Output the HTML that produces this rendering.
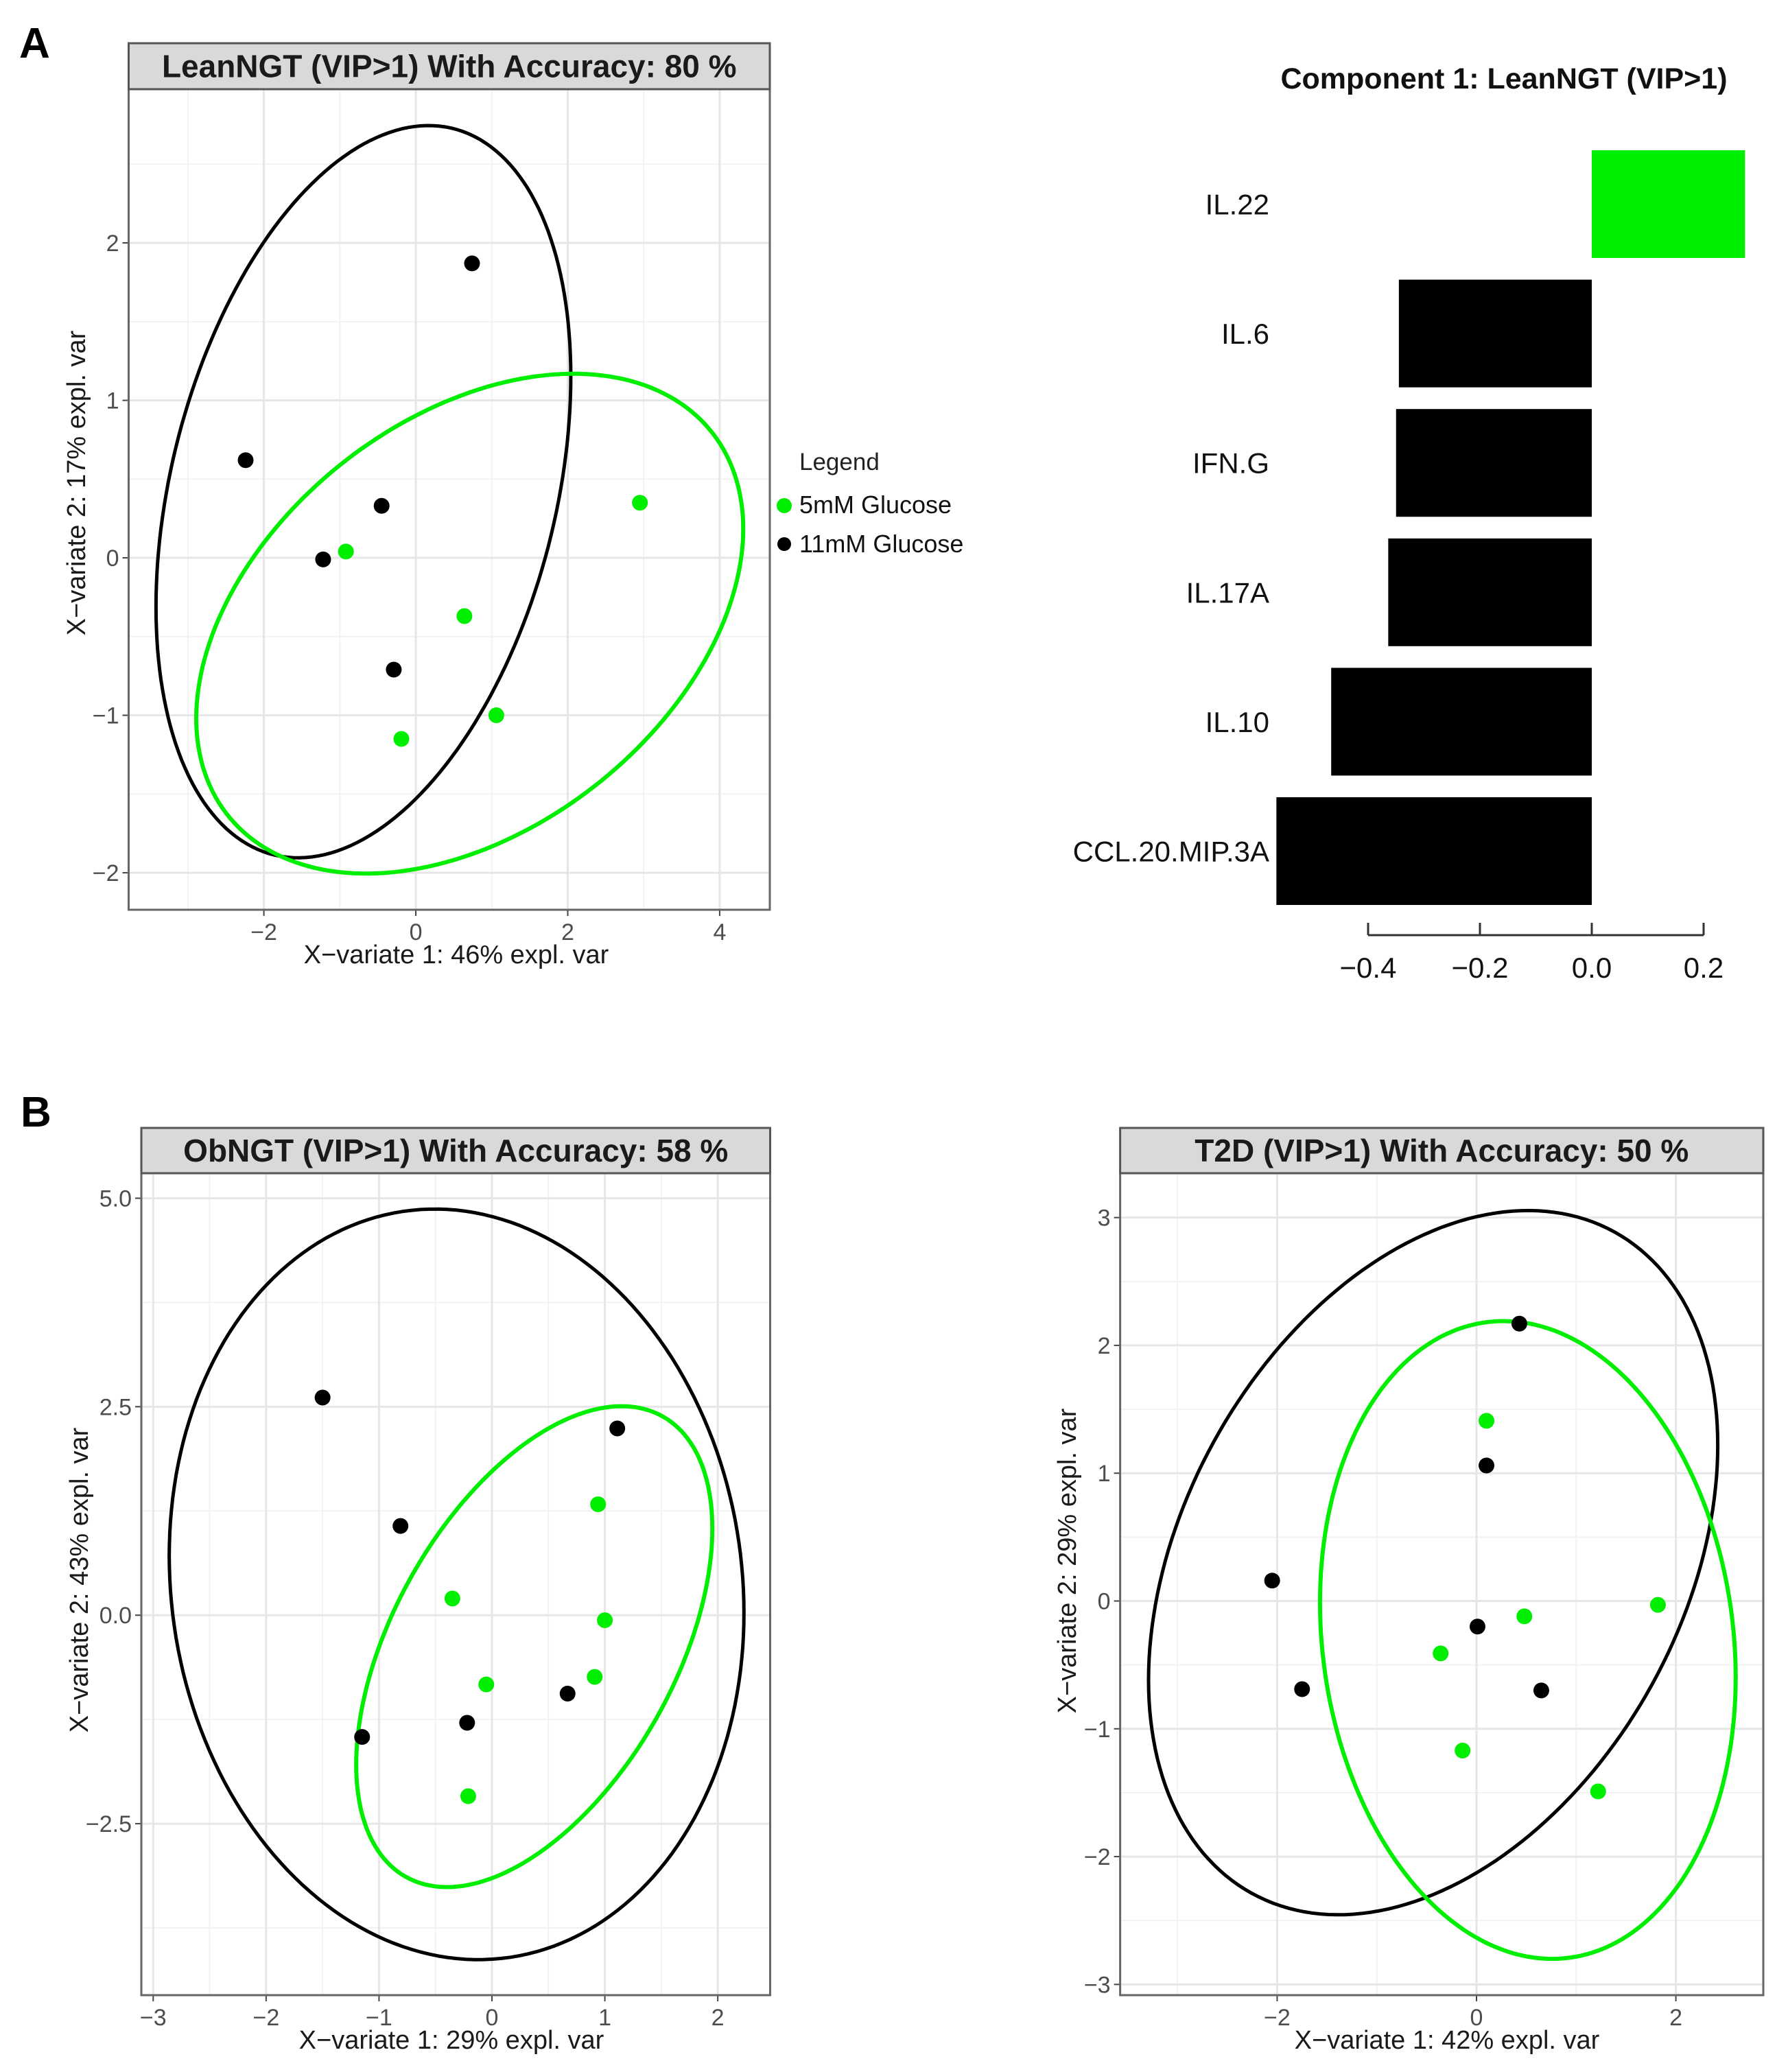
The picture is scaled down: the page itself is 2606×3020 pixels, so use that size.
<!DOCTYPE html>
<html><head><meta charset="utf-8"><style>
html,body{margin:0;padding:0;background:#fff;}
svg{display:block;font-family:"Liberation Sans",Arial,sans-serif;}
</style></head><body>
<svg id="fig" width="2606" height="3020" viewBox="0 0 2606 3020" xmlns="http://www.w3.org/2000/svg">
<text x="28" y="84" font-size="62" font-weight="bold">A</text>
<text x="30" y="1642" font-size="62" font-weight="bold">B</text>
<g>
<text x="1165" y="685" font-size="35" fill="#222">Legend</text>
<circle cx="1143" cy="737" r="11" fill="#00ee00"/>
<text x="1165" y="748" font-size="36" fill="#111">5mM Glucose</text>
<circle cx="1143" cy="793" r="10" fill="#000"/>
<text x="1165" y="805" font-size="36" fill="#111">11mM Glucose</text>
</g>
</svg>
<script>
// ---- Panel A scatter data ----
const aBlackX = [0.74, -2.24, -0.45, -1.22, -0.29];
const aBlackY = [1.87, 0.62, 0.33, -0.01, -0.71];
const aGreenX = [-0.92, 2.95, 0.64, 1.06, -0.19];
const aGreenY = [0.04, 0.35, -0.37, -1.00, -1.15];
const aXTicks = [-2, 0, 2, 4];
const aYTicks = [-2, -1, 0, 1, 2];
const aBlackEll = [-0.69, 0.42, 2.73, 2.325, 0.32];
const aGreenEll = [0.71, -0.418, 3.6, 1.587, 0.389];
// ---- Panel A bar data ----
const barLabels = ["IL.22", "IL.6", "IFN.G", "IL.17A", "IL.10", "CCL.20.MIP.3A"];
const barValues = [0.274, -0.345, -0.35, -0.364, -0.466, -0.564];
const barTicks = [-0.4, -0.2, 0.0, 0.2];
// ---- Panel B ObNGT ----
const bBlackX = [-1.50, -0.81, 1.11, -1.15, -0.22, 0.67];
const bBlackY = [2.61, 1.07, 2.24, -1.46, -1.29, -0.94];
const bGreenX = [0.94, -0.35, 1.00, -0.05, 0.91, -0.21];
const bGreenY = [1.33, 0.20, -0.06, -0.83, -0.74, -2.17];
const bXTicks = [-3, -2, -1, 0, 1, 2];
const bYTicks = [-2.5, 0.0, 2.5, 5.0];
const bBlackEll = [-0.313, 0.37, 2.545, 4.5, -0.076];
const bGreenEll = [0.375, -0.377, 1.577, 2.883, 0.513];
// ---- Panel B T2D ----
const cBlackX = [0.43, 0.10, -2.05, 0.01, -1.75, 0.65];
const cBlackY = [2.17, 1.06, 0.16, -0.20, -0.69, -0.70];
const cGreenX = [0.10, 0.48, 1.82, -0.36, -0.14, 1.22];
const cGreenY = [1.41, -0.12, -0.03, -0.41, -1.17, -1.49];
const cXTicks = [-2, 0, 2];
const cYTicks = [-3, -2, -1, 0, 1, 2, 3];
const cBlackEll = [-0.435, 0.30, 2.855, 2.755, 0.34];
const cGreenEll = [0.515, -0.305, 2.085, 2.495, -0.117];

const NS = "http://www.w3.org/2000/svg";
const svg = document.getElementById("fig");
function mk(tag, attrs, parent) {
  const e = document.createElementNS(NS, tag);
  for (const k in attrs) e.setAttribute(k, attrs[k]);
  (parent || svg).appendChild(e);
  return e;
}
function fmt(v, dec) { const s = v.toFixed(dec); return s.replace("-", "\u2212"); }

function scatter(o) {
  const g = mk("g", {});
  
  
  const X = v => o.x0 + (v - o.xmin) / (o.xmax - o.xmin) * (o.x1 - o.x0);
  const Y = v => o.y1 - (v - o.ymin) / (o.ymax - o.ymin) * (o.y1 - o.y0);
  mk("rect", {x: o.x0, y: o.y0, width: o.x1 - o.x0, height: o.y1 - o.y0, fill: "#fff"}, g);
  const xs = o.xt[1] - o.xt[0], ys = o.yt[1] - o.yt[0];
  for (let v = o.xt[0] - xs * 2.5; v <= o.xmax; v += xs) {
    if (v < o.xmin) continue;
    const l = mk("line", {x1: X(v), x2: X(v), y1: o.y0, y2: o.y1, stroke: "#f2f2f2", "stroke-width": 2}, g);
    
    
  }
  for (let v = o.yt[0] - ys * 2.5; v <= o.ymax; v += ys) {
    if (v < o.ymin) continue;
    const l = mk("line", {x1: o.x0, x2: o.x1, y1: Y(v), y2: Y(v), stroke: "#f2f2f2", "stroke-width": 2}, g);
    
    
  }
  o.xt.forEach(v => {
    const l = mk("line", {x1: X(v), x2: X(v), y1: o.y0, y2: o.y1, stroke: "#e6e6e6", "stroke-width": 3}, g);
    
    
    mk("line", {x1: X(v), x2: X(v), y1: o.y1, y2: o.y1 + 9, stroke: "#444", "stroke-width": 2}, g);
    const t = mk("text", {x: X(v), y: o.y1 + 44, "font-size": 34, fill: "#4d4d4d", "text-anchor": "middle"}, g);
    t.textContent = fmt(v, o.xdec);
    
    
  });
  o.yt.forEach(v => {
    const l = mk("line", {x1: o.x0, x2: o.x1, y1: Y(v), y2: Y(v), stroke: "#e6e6e6", "stroke-width": 3}, g);
    
    
    mk("line", {x1: o.x0 - 9, x2: o.x0, y1: Y(v), y2: Y(v), stroke: "#444", "stroke-width": 2}, g);
    const t = mk("text", {x: o.x0 - 14, y: Y(v) + 12, "font-size": 34, fill: "#4d4d4d", "text-anchor": "end"}, g);
    t.textContent = fmt(v, o.ydec);
    
    
  });
  function ell(p, color, w, nm) {
    let d = "";
    for (let i = 0; i <= 200; i++) {
      const t = i / 200 * Math.PI * 2;
      const px = X(p[0] + p[2] * Math.cos(t)), py = Y(p[1] + p[3] * Math.sin(t + p[4]));
      d += (i ? "L" : "M") + px.toFixed(1) + "," + py.toFixed(1);
    }
    const e = mk("path", {d: d + "Z", fill: "none", stroke: color, "stroke-width": w}, g);
    
    
  }
  ell(o.be, "#000", 5, "ellipse-11mm");
  ell(o.ge, "#00ee00", 6, "ellipse-5mm");
  o.bx.forEach((v, i) => {
    const c = mk("circle", {cx: X(v), cy: Y(o.by[i]), r: 11.5, fill: "#000"}, g);
    
    
  });
  o.gx.forEach((v, i) => {
    const c = mk("circle", {cx: X(v), cy: Y(o.gy[i]), r: 11.5, fill: "#00ee00"}, g);
    
    
  });
  mk("rect", {x: o.x0, y: o.y0, width: o.x1 - o.x0, height: o.y1 - o.y0, fill: "none", stroke: "#666", "stroke-width": 3}, g);
  const sr = mk("rect", {x: o.x0, y: o.sy, width: o.x1 - o.x0, height: o.y0 - o.sy, fill: "#d9d9d9", stroke: "#555", "stroke-width": 3}, g);
  
  
  const tt = mk("text", {x: (o.x0 + o.x1) / 2, y: (o.sy + o.y0) / 2 + 16, "font-size": 46, "font-weight": "bold", fill: "#1a1a1a", "text-anchor": "middle"}, g);
  tt.textContent = o.title;
  
  
  const xt = mk("text", {x: o.xtx, y: o.y1 + 78, "font-size": 38, fill: "#1a1a1a", "text-anchor": "middle"}, g);
  xt.textContent = o.xlab;
  
  
  const yt = mk("text", {x: 0, y: 0, "font-size": 38, fill: "#1a1a1a", "text-anchor": "middle", transform: "translate(" + o.ytx + "," + o.yty + ") rotate(-90)"}, g);
  yt.textContent = o.ylab;
  
  
}

scatter({name: "leanngt-scatter", x0: 187.5, x1: 1122, y0: 130, y1: 1326, sy: 63,
  xmin: -3.78, xmax: 4.66, ymin: -2.235, ymax: 2.976, xt: aXTicks, yt: aYTicks, xdec: 0, ydec: 0,
  bx: aBlackX, by: aBlackY, gx: aGreenX, gy: aGreenY, be: aBlackEll, ge: aGreenEll,
  title: "LeanNGT (VIP>1) With Accuracy: 80 %", xlab: "X\u2212variate 1: 46% expl. var",
  ylab: "X\u2212variate 2: 17% expl. var", xtx: 665, ytx: 124, yty: 704});
scatter({name: "obngt-scatter", x0: 206, x1: 1122.5, y0: 1710, y1: 2908, sy: 1644,
  xmin: -3.105, xmax: 2.464, ymin: -4.556, ymax: 5.30, xt: bXTicks, yt: bYTicks, xdec: 0, ydec: 1,
  bx: bBlackX, by: bBlackY, gx: bGreenX, gy: bGreenY, be: bBlackEll, ge: bGreenEll,
  title: "ObNGT (VIP>1) With Accuracy: 58 %", xlab: "X\u2212variate 1: 29% expl. var",
  ylab: "X\u2212variate 2: 43% expl. var", xtx: 658, ytx: 128, yty: 2303});
scatter({name: "t2d-scatter", x0: 1632.6, x1: 2570, y0: 1710, y1: 2908, sy: 1644,
  xmin: -3.575, xmax: 2.877, ymin: -3.084, ymax: 3.347, xt: cXTicks, yt: cYTicks, xdec: 0, ydec: 0,
  bx: cBlackX, by: cBlackY, gx: cGreenX, gy: cGreenY, be: cBlackEll, ge: cGreenEll,
  title: "T2D (VIP>1) With Accuracy: 50 %", xlab: "X\u2212variate 1: 42% expl. var",
  ylab: "X\u2212variate 2: 29% expl. var", xtx: 2109, ytx: 1568, yty: 2275});

(function () {
  const g = mk("g", {});
  
  
  const zeroX = 2320, perUnit = 815;
  const BX = v => zeroX + v * perUnit;
  const top0 = 219, pitch = 188.6, bh = 157;
  const title = mk("text", {x: 2192, y: 129, "font-size": 43, "font-weight": "bold", fill: "#111", "text-anchor": "middle"}, g);
  title.textContent = "Component 1:  LeanNGT (VIP>1)";
  
  
  barLabels.forEach((lab, i) => {
    const v = barValues[i];
    const y = top0 + i * pitch;
    const r = mk("rect", {x: Math.min(BX(0), BX(v)), y: y, width: Math.abs(BX(v) - BX(0)), height: bh, fill: v > 0 ? "#00ee00" : "#000"}, g);
    
    
    const t = mk("text", {x: 1850, y: y + bh / 2 + 15, "font-size": 42, fill: "#111", "text-anchor": "end"}, g);
    t.textContent = lab;
    
    
  });
  const axisY = 1363;
  const ax = mk("line", {x1: BX(barTicks[0]), x2: BX(barTicks[barTicks.length - 1]), y1: axisY, y2: axisY, stroke: "#333", "stroke-width": 3}, g);
  
  
  barTicks.forEach(v => {
    mk("line", {x1: BX(v), x2: BX(v), y1: axisY, y2: axisY - 18, stroke: "#333", "stroke-width": 3}, g);
    const t = mk("text", {x: BX(v), y: 1425, "font-size": 42, fill: "#111", "text-anchor": "middle"}, g);
    t.textContent = fmt(v, 1);
    
    
  });
})();
</script>
</body></html>
